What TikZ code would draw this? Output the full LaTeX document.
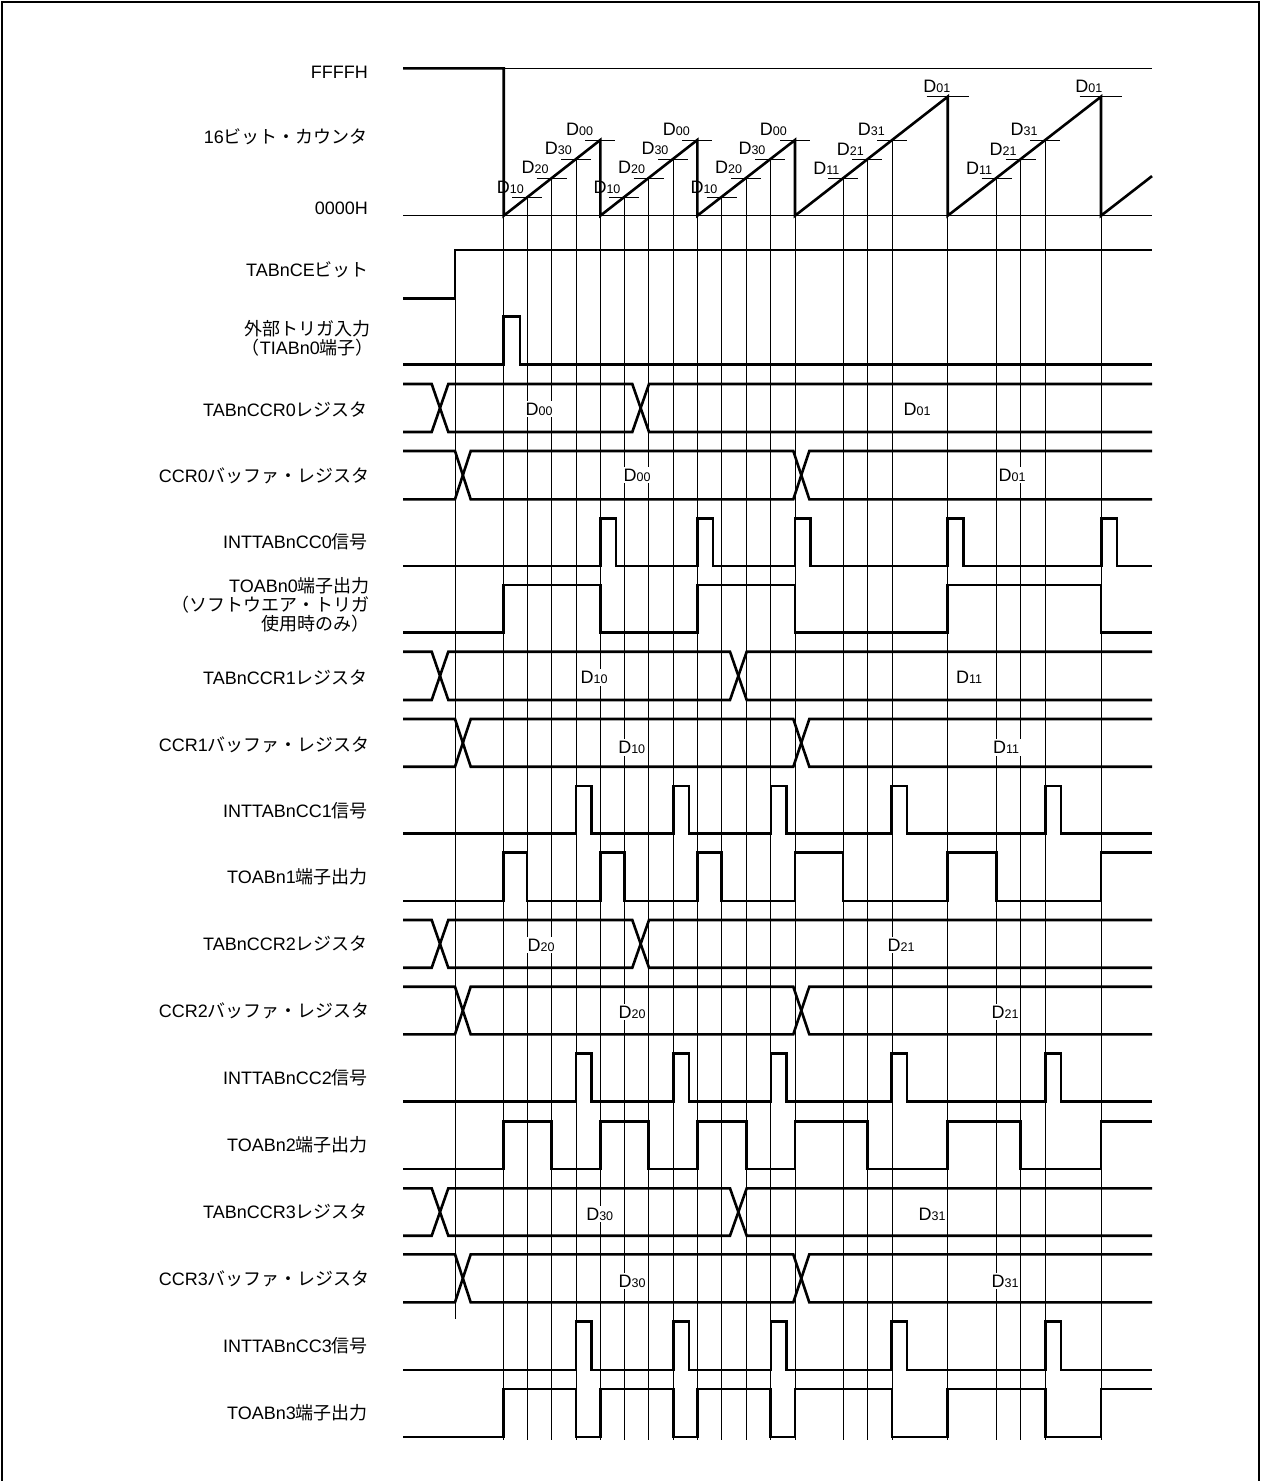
\documentclass[tikz,border=0pt]{standalone}
\usepackage{fontspec}
\setmainfont{Liberation Sans}
\newfontfamily\jpf{Noto Sans CJK JP}
\newcommand\J[1]{{\jpf #1}}
\newcommand\lblfont{\fontsize{18}{21}\selectfont}
\newcommand\dlfont{\fontsize{18}{20}\selectfont}
\newcommand\Dv[1]{D{\fontsize{12.5}{13}\selectfont #1}}
\begin{document}
\begin{tikzpicture}[x=1pt,y=-1pt,
  sigl/.style={line width=2.6pt},
  gridl/.style={line width=0.8pt},
  lab/.style={anchor=east,inner sep=0pt,align=center,font=\lblfont},
  dlab/.style={inner sep=0pt,font=\dlfont,anchor=south east},
  blab/.style={fill=white,inner sep=2pt,font=\dlfont}]
\useasboundingbox (0,0) rectangle (1261,1481);
% frame
\draw[line width=1.2pt] (2,1481) -- (2,2) -- (1259,2) -- (1259,1481);

% ---------- vertical grid lines ----------
\draw[gridl] (455,250) -- (455,1319);
\foreach \x/\y in {503.7/215.7, 527/197.5, 551.7/178.3, 576/159.2, 600.3/215.7,
  624.3/197.5, 648.7/178.3, 673.3/159.2, 697.3/215.7, 721.7/197.5, 746.3/178.3,
  770.3/159.2, 795/215.7, 843/178.3, 867.3/159.2, 892/140, 947.7/215.7,
  996.7/178.3, 1020.7/159.2, 1045.3/140, 1101/215.7}
  \draw[gridl] (\x,\y) -- (\x,1440);

% ---------- left labels ----------
\node[lab] (lffff) at (368,72) {FFFFH};
\node[lab] (lcnt) at (368,137) {16\J{ビット・カウンタ}};
\node[lab] (l0000) at (368,208) {0000H};
\node[lab] (lce) at (369,270) {TABnCE\J{ビット}};
\node[lab] (ltrg) at (374,338) {\J{外部トリガ入力}\\[-2pt]\J{（}TIABn0\J{端子）}};
\node[lab] (lccr0) at (368,410) {TABnCCR0\J{レジスタ}};
\node[lab] (lbuf0) at (370,476) {CCR0\J{バッファ・レジスタ}};
\node[lab] (lint0) at (368,542) {INTTABnCC0\J{信号}};
\node[lab,align=right] (lto0) at (370,605) {TOABn0\J{端子出力}\\[-2pt]\J{（ソフトウエア・トリガ}\\[-2pt]\J{使用時のみ）}};
\node[lab] (lccr1) at (368,678) {TABnCCR1\J{レジスタ}};
\node[lab] (lbuf1) at (370,745) {CCR1\J{バッファ・レジスタ}};
\node[lab] (lint1) at (368,811) {INTTABnCC1\J{信号}};
\node[lab] (lto1) at (368,877) {TOABn1\J{端子出力}};
\node[lab] (lccr2) at (368,944) {TABnCCR2\J{レジスタ}};
\node[lab] (lbuf2) at (370,1011) {CCR2\J{バッファ・レジスタ}};
\node[lab] (lint2) at (368,1078) {INTTABnCC2\J{信号}};
\node[lab] (lto2) at (368,1145) {TOABn2\J{端子出力}};
\node[lab] (lccr3) at (368,1212) {TABnCCR3\J{レジスタ}};
\node[lab] (lbuf3) at (370,1279) {CCR3\J{バッファ・レジスタ}};
\node[lab] (lint3) at (368,1346) {INTTABnCC3\J{信号}};
\node[lab] (lto3) at (368,1413) {TOABn3\J{端子出力}};

% ---------- counter ----------
\draw[gridl] (403,68.3) -- (1152,68.3);
\draw[gridl] (403,215.7) -- (1152,215.7);
% ticks
\foreach \x/\y in {527/197.5, 551.7/178.3, 576/159.2, 600.3/140,
  624.3/197.5, 648.7/178.3, 673.3/159.2, 697.3/140,
  721.7/197.5, 746.3/178.3, 770.3/159.2, 795/140,
  843/178.3, 867.3/159.2, 892/140, 996.7/178.3, 1020.7/159.2, 1045.3/140}
  \draw[gridl] (\x-15,\y) -- (\x+15,\y);
\draw[gridl] (926.5,96.7) -- (969,96.7);
\draw[gridl] (1079.5,96.7) -- (1122,96.7);
\draw[sigl] (403,68.3) -- (503.7,68.3) -- (503.7,215.7) -- (600.3,140) -- (600.3,215.7)
  -- (697.3,140) -- (697.3,215.7) -- (795,140) -- (795,215.7) -- (947.7,96.7)
  -- (947.7,215.7) -- (1101,96.7) -- (1101,215.7) -- (1152,176.1);
% counter labels
\foreach \x/\n in {503.7/a, 600.3/b, 697.3/c} {
  \node[dlab] (c10\n) at (\x+20.3,193.5) {\Dv{10}};
  \node[dlab] (c20\n) at (\x+45,174.3) {\Dv{20}};
  \node[dlab] (c30\n) at (\x+68.3,155.2) {\Dv{30}};
  \node[dlab] (c00\n) at (\x+89.6,136) {\Dv{00}};
}
\foreach \x/\n in {795/a, 947.7/b} {
  \node[dlab] (c11\n) at (\x+44.5,174.3) {\Dv{11}};
  \node[dlab] (c21\n) at (\x+69,155.2) {\Dv{21}};
  \node[dlab] (c31\n) at (\x+90,136) {\Dv{31}};
}
\node[dlab] (c01a) at (950.5,92.5) {\Dv{01}};
\node[dlab] (c01b) at (1102.5,92.5) {\Dv{01}};

% ---------- TABnCE ----------
\draw[sigl] (403,298.3) -- (455,298.3) -- (455,250) -- (1152,250);
% ---------- external trigger ----------
\draw[sigl] (403,364.3) -- (503.7,364.3) -- (503.7,316.7) -- (520,316.7) -- (520,364.3) -- (1152,364.3);

% ---------- bus rows ----------
% TABnCCR0
\node[blab] (r0a) at (539,409) {\Dv{00}};
\node[blab] (r0b) at (917,409) {\Dv{01}};
\draw[sigl] (403,384) -- (431.7,384) -- (448.3,432) -- (632.3,432) -- (649,384) -- (1152,384);
\draw[sigl] (403,432) -- (431.7,432) -- (448.3,384) -- (632.3,384) -- (649,432) -- (1152,432);
% CCR0 buffer
\node[blab] (b0a) at (637,475) {\Dv{00}};
\node[blab] (b0b) at (1012,475) {\Dv{01}};
\draw[sigl] (403,451) -- (455,451) -- (470.7,499.3) -- (793.3,499.3) -- (809.3,451) -- (1152,451);
\draw[sigl] (403,499.3) -- (455,499.3) -- (470.7,451) -- (793.3,451) -- (809.3,499.3) -- (1152,499.3);
% TABnCCR1
\node[blab] (r1a) at (594,677.5) {\Dv{10}};
\node[blab] (r1b) at (969,677.5) {\Dv{11}};
\draw[sigl] (403,651.7) -- (431.7,651.7) -- (448.3,700) -- (730,700) -- (746.7,651.7) -- (1152,651.7);
\draw[sigl] (403,700) -- (431.7,700) -- (448.3,651.7) -- (730,651.7) -- (746.7,700) -- (1152,700);
% CCR1 buffer
\node[blab] (b1a) at (631.7,747.5) {\Dv{10}};
\node[blab] (b1b) at (1006,747.5) {\Dv{11}};
\draw[sigl] (403,719) -- (455,719) -- (470.7,766.7) -- (793.3,766.7) -- (809.3,719) -- (1152,719);
\draw[sigl] (403,766.7) -- (455,766.7) -- (470.7,719) -- (793.3,719) -- (809.3,766.7) -- (1152,766.7);
% TABnCCR2
\node[blab] (r2a) at (541,945) {\Dv{20}};
\node[blab] (r2b) at (901,945) {\Dv{21}};
\draw[sigl] (403,920) -- (431.7,920) -- (448.3,967.7) -- (632.3,967.7) -- (649,920) -- (1152,920);
\draw[sigl] (403,967.7) -- (431.7,967.7) -- (448.3,920) -- (632.3,920) -- (649,967.7) -- (1152,967.7);
% CCR2 buffer
\node[blab] (b2a) at (632,1012) {\Dv{20}};
\node[blab] (b2b) at (1005,1012) {\Dv{21}};
\draw[sigl] (403,986.7) -- (455,986.7) -- (470.7,1034.3) -- (793.3,1034.3) -- (809.3,986.7) -- (1152,986.7);
\draw[sigl] (403,1034.3) -- (455,1034.3) -- (470.7,986.7) -- (793.3,986.7) -- (809.3,1034.3) -- (1152,1034.3);
% TABnCCR3
\node[blab] (r3a) at (599.7,1214) {\Dv{30}};
\node[blab] (r3b) at (932,1214) {\Dv{31}};
\draw[sigl] (403,1188.3) -- (431.7,1188.3) -- (448.3,1235.7) -- (730,1235.7) -- (746.7,1188.3) -- (1152,1188.3);
\draw[sigl] (403,1235.7) -- (431.7,1235.7) -- (448.3,1188.3) -- (730,1188.3) -- (746.7,1235.7) -- (1152,1235.7);
% CCR3 buffer
\node[blab] (b3a) at (632,1281) {\Dv{30}};
\node[blab] (b3b) at (1005,1281) {\Dv{31}};
\draw[sigl] (403,1254.3) -- (455,1254.3) -- (470.7,1302.3) -- (793.3,1302.3) -- (809.3,1254.3) -- (1152,1254.3);
\draw[sigl] (403,1302.3) -- (455,1302.3) -- (470.7,1254.3) -- (793.3,1254.3) -- (809.3,1302.3) -- (1152,1302.3);

% ---------- interrupt rows ----------
\draw[sigl] (403,566) foreach \a in {600.3, 697.3, 795, 947.7, 1101.3}
  { -- (\a,566) -- (\a,518.3) -- (\a+15.5,518.3) -- (\a+15.5,566) } -- (1152,566);
\foreach \H/\L in {786/833.3, 1053.3/1101.7, 1321.7/1370}
  \draw[sigl] (403,\L) foreach \a in {576, 673.3, 771, 891.3, 1045.3}
  { -- (\a,\L) -- (\a,\H) -- (\a+15.5,\H) -- (\a+15.5,\L) } -- (1152,\L);

% ---------- output rows ----------
\draw[sigl] (403,632.7) foreach \a/\b in {503.7/600.3, 697.3/795, 947.7/1101}
  { -- (\a,632.7) -- (\a,585) -- (\b,585) -- (\b,632.7) } -- (1152,632.7);
\draw[sigl] (403,901) foreach \a/\b in {503.7/527, 600.3/624.3, 697.3/721.7, 795/843, 947.7/996.7}
  { -- (\a,901) -- (\a,852.7) -- (\b,852.7) -- (\b,901) } -- (1101,901) -- (1101,852.7) -- (1152,852.7);
\draw[sigl] (403,1169) foreach \a/\b in {503.7/551.7, 600.3/648.7, 697.3/746.3, 795/867.3, 947.7/1020.7}
  { -- (\a,1169) -- (\a,1121.7) -- (\b,1121.7) -- (\b,1169) } -- (1101,1169) -- (1101,1121.7) -- (1152,1121.7);
\draw[sigl] (403,1437) foreach \a/\b in {503.7/576, 600.3/673.3, 697.3/770.3, 795/892, 947.7/1045.3}
  { -- (\a,1437) -- (\a,1389) -- (\b,1389) -- (\b,1437) } -- (1101,1437) -- (1101,1389) -- (1152,1389);
\end{tikzpicture}
\end{document}
